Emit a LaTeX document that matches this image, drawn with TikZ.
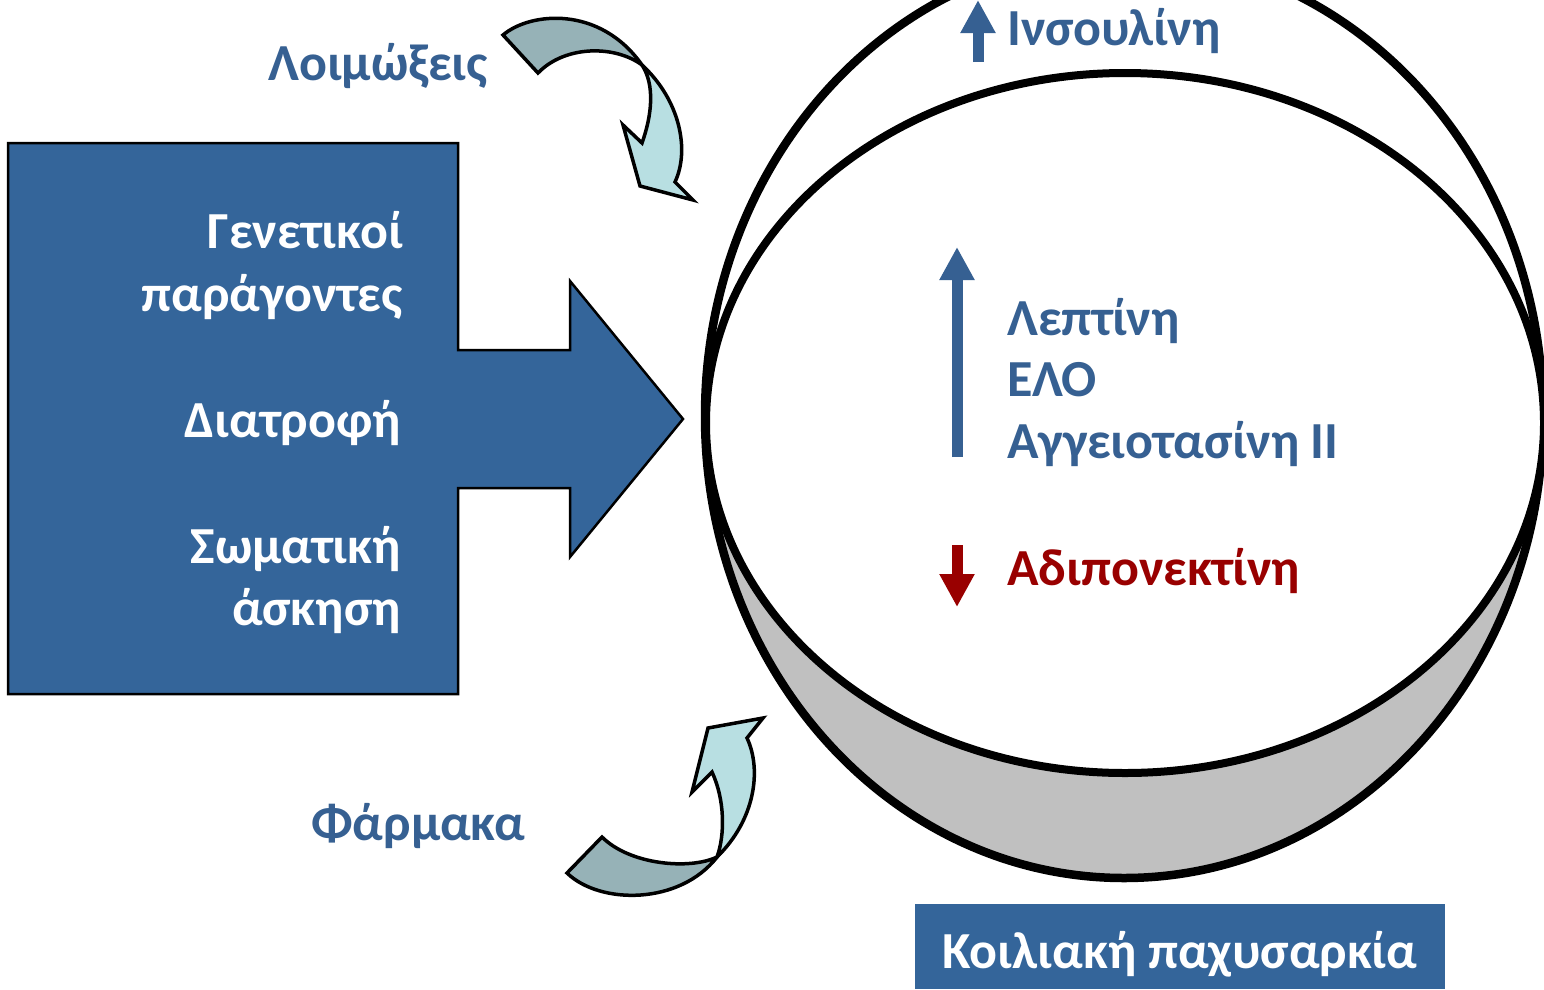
\documentclass[tikz,border=0pt]{standalone}
\usepackage{fontspec}
\setmainfont{Carlito}
\usetikzlibrary{arrows.meta}
\definecolor{boxblue}{HTML}{34659A}
\definecolor{txtblue}{HTML}{366092}
\definecolor{dred}{HTML}{990000}
\definecolor{tealdark}{HTML}{96B2B7}
\definecolor{teallight}{HTML}{B8DFE2}
\definecolor{cylgray}{HTML}{C0C0C0}
\tikzset{
  lbl/.style={font=\fontsize{52}{62}\selectfont\bfseries, text=txtblue, inner sep=0pt, anchor=base west},
  boxtxt/.style={font=\fontsize{52}{63}\selectfont\bfseries, text=white, inner sep=0pt, anchor=base east},
  ribbon/.style={draw=black, line width=3.5pt, line join=miter},
  updown/.style={line width=11pt, -{Triangle[width=33pt,length=33pt]}},
}
\begin{document}
\begin{tikzpicture}[x=1pt,y=-1pt]
\useasboundingbox (0,0) rectangle (1544,989);
% cylinder
\begin{scope}
\clip (0,423) rectangle (1544,989);
\fill[cylgray, even odd rule] (1124,416) ellipse [x radius=419pt, y radius=462pt]
  (1125,423) ellipse [x radius=419pt, y radius=350pt];
\end{scope}
\draw[line width=8.5pt] (1124,416) ellipse [x radius=419pt, y radius=462pt];
\draw[line width=8pt, fill=white] (1125,423) ellipse [x radius=419pt, y radius=350pt];
% left box arrow
\draw[fill=boxblue, line width=2.5pt] (8,143) -- (458,143) -- (458,350) -- (570,350) -- (570,281) -- (683,419) -- (570,557) -- (570,488) -- (458,488) -- (458,694) -- (8,694) -- cycle;
\node[boxtxt] (gen1) at (403,248) {Γενετικοί};
\node[boxtxt] (gen2) at (403,311) {παράγοντες};
\node[boxtxt] (diet) at (401,437) {Διατροφή};
\node[boxtxt] (exer1) at (401,563) {Σωματική};
\node[boxtxt] (exer2) at (401,625) {άσκηση};
% top curved arrow
\draw[ribbon, fill=tealdark] (503,35) .. controls (530,12) and (600,5) .. (642,65) .. controls (615,45) and (565,45) .. (538,73) -- cycle;
\draw[ribbon, fill=teallight] (642,65) .. controls (680,100) and (690,150) .. (675,182) -- (693,200) -- (640,186) -- (623,125) -- (642,143) .. controls (652,115) and (655,85) .. (642,65) -- cycle;
% bottom curved arrow
\draw[ribbon, fill=tealdark] (567,873) .. controls (600,905) and (680,905) .. (717,857) .. controls (690,870) and (630,865) .. (602,837) -- cycle;
\draw[ribbon, fill=teallight] (717,857) .. controls (755,820) and (762,770) .. (747,738) -- (763,718) -- (708,728) -- (692,792) -- (712,772) .. controls (725,800) and (725,835) .. (717,857) -- cycle;
% labels
\node[lbl] (infect) at (268,80) {Λοιμώξεις};
\node[lbl] (drugs) at (311,840) {Φάρμακα};
\node[lbl] (ins) at (1007,45) {Ινσουλίνη};
\node[lbl] (lep) at (1007,335) {Λεπτίνη};
\node[lbl] (elo) at (1007,396) {ΕΛΟ};
\node[lbl] (ang) at (1007,458) {Αγγειοτασίνη ΙΙ};
\node[lbl, text=dred] (adi) at (1007,585) {Αδιπονεκτίνη};
% up/down arrows
\coordinate (insA) at (978,62); \coordinate (insB) at (978,0);
\coordinate (lepA) at (957,457); \coordinate (lepB) at (957,247);
\coordinate (adiA) at (957,545); \coordinate (adiB) at (957,607);
\draw[updown, txtblue] (insA) -- (insB);
\draw[updown, txtblue] (lepA) -- (lepB);
\draw[updown, dred] (adiA) -- (adiB);
% bottom label
\fill[boxblue] (915,904) rectangle (1445,989);
\node[font=\fontsize{52}{62}\selectfont\bfseries, text=white, inner sep=0pt, anchor=base] (abd) at (1180,968) {Κοιλιακή παχυσαρκία};
\end{tikzpicture}
\end{document}
